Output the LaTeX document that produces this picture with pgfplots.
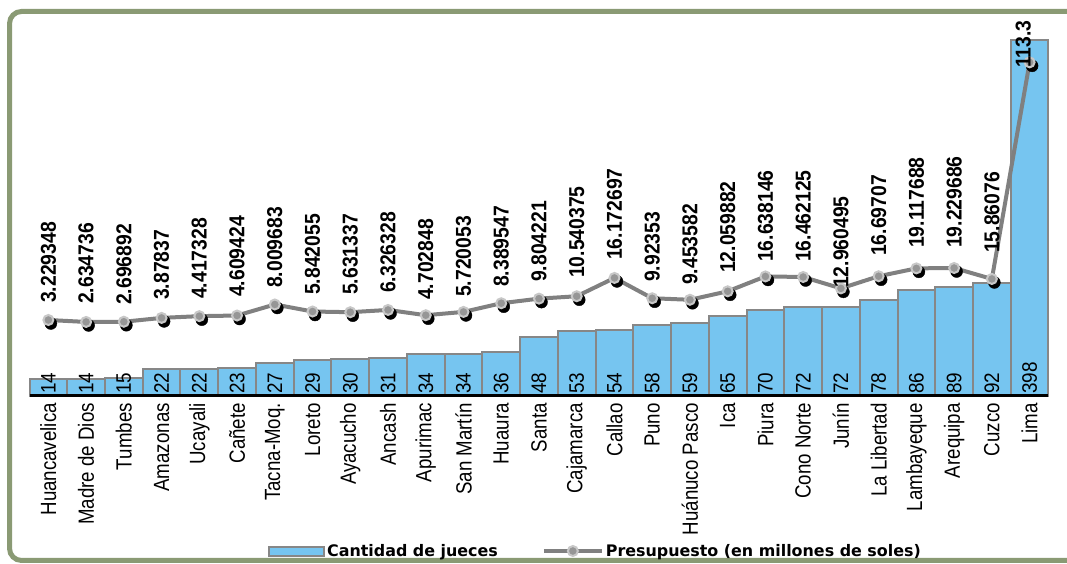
\documentclass[border=0pt]{standalone}
\usepackage{pgfplots}
\pgfplotsset{compat=1.18}
\usepackage{pgfplotstable}
\usepackage{fontspec}
\setmainfont{Liberation Sans}
\newfontfamily\tickfont[FakeStretch=0.85]{Liberation Sans}
\newfontfamily\labfont[FakeStretch=0.9]{Liberation Sans}
\newfontfamily\legfont{DejaVu Sans}
\definecolor{barblue}{RGB}{118,197,240}
\definecolor{bargray}{RGB}{135,135,135}
\definecolor{linegray}{RGB}{128,128,128}
\definecolor{markfill}{RGB}{150,150,150}
\definecolor{markring}{RGB}{200,200,200}
\definecolor{framegreen}{RGB}{138,154,116}

\pgfplotsset{
  linelegend/.style={legend image code/.code={\draw[mark repeat=2, mark phase=2, ##1] plot coordinates {(0pt,0pt) (29pt,0pt) (58pt,0pt)};}},
  barlegend/.style={legend image code/.code={\draw[fill=barblue, draw=bargray, line width=2pt] (0pt,-4.5pt) rectangle (55pt,4.5pt);}},
}

% x, plotted bar height, label (jueces), plotted line position
\pgfplotstableread[col sep=comma]{
x,jb,jl,pp
0,14,14,3.229348
1,14,14,2.634736
2,15,15,2.696892
3,22,22,3.87837
4,22,22,4.417328
5,23,23,4.609424
6,27,27,8.009683
7,29,29,5.842055
8,30,30,5.631337
9,31,31,6.326328
10,34,34,4.702848
11,34,34,5.720053
12,36,36,8.389547
13,48,48,9.804221
14,53,53,10.540375
15,54,54,16.172697
16,58,58,9.92353
17,59,59,9.453582
18,65,65,12.059882
19,70,70,16.638146
20,72,72,16.462125
21,72,72,12.960495
22,78,78,16.69707
23,86,86,19.117688
24,89,89,19.229686
25,92,92,15.86076
26,289.4,398,82.5
}\data

% position of each budget label (start of rotated text) and its text
\pgfplotstableread[col sep=comma]{
x,ly,lab
0,8.46,3.229348
1,8.15,2.634736
2,7.85,2.696892
3,9.38,3.87837
4,9.69,4.417328
5,10.31,4.609424
6,13.08,8.009683
7,10.92,5.842055
8,10.92,5.631337
9,11.54,6.326328
10,9.38,4.702848
11,10.31,5.720053
12,13.38,8.389547
13,14.92,9.804221
14,16.15,10.540375
15,21.69,16.172697
16,14.92,9.92353
17,14.00,9.453582
18,17.69,12.059882
19,21.08,16.638146
20,21.08,16.462125
21,13.08,12.960495
22,22.92,16.69707
23,25.38,19.117688
24,25.38,19.229686
25,23.85,15.86076
25.83,80.77,113.3
}\labs

\begin{document}
\begin{tikzpicture}[x=1pt,y=1pt]
\path[use as bounding box] (0,0) rectangle (1067,564);
\draw[framegreen, line width=5pt, rounded corners=12pt] (9.5,3.5) rectangle (1095,552.5);

\begin{axis}[
  at={(29.5pt,168pt)}, anchor=south west,
  scale only axis, width=1019pt, height=356pt,
  xmin=-0.5, xmax=26.5, ymin=0, ymax=289.4,
  clip=false,
  axis line style={draw=none},
  ytick=\empty,
  xtick={0,...,26},
  xticklabels={Huancavelica,Madre de Dios,Tumbes,Amazonas,Ucayali,Cañete,Tacna-Moq.,Loreto,Ayacucho,Ancash,Apurimac,San Martín,Huaura,Santa,Cajamarca,Callao,Puno,Huánuco Pasco,Ica,Piura,Cono Norte,Junín,La Libertad,Lambayeque,Arequipa,Cuzco,Lima},
  major tick length=0pt,
  tick style={draw=none},
  xticklabel style={rotate=90, anchor=east, inner sep=0pt, font=\tickfont\fontsize{22}{22}\selectfont},
  xticklabel shift=7pt,
]
\addplot[ybar, bar width=1, fill=barblue, draw=bargray, line width=2pt, forget plot]
  table[x=x, y=jb] \data;
\draw[black, line width=3pt] (axis cs:-0.5,0) -- (axis cs:26.5,0);
\addplot[draw=none, mark=none, forget plot, nodes near coords, point meta=explicit symbolic,
  every node near coord/.append style={rotate=90, anchor=west, inner xsep=2pt, inner ysep=0pt,
  text=black, font=\labfont\fontsize{21}{21}\selectfont}]
  table[x=x, y expr=0, meta=jl] \data;
\end{axis}

\begin{axis}[
  at={(29.5pt,168pt)}, anchor=south west,
  scale only axis, width=1019pt, height=356pt,
  xmin=-0.5, xmax=26.5, ymin=-20.15, ymax=89.38,
  clip=false, hide axis,
  legend columns=2,
  legend style={at={(0.234,-0.4354)}, anchor=west, draw=none, fill=none, inner sep=0pt,
    font=\legfont\bfseries\fontsize{15.9}{16}\selectfont,
    /tikz/every even column/.append style={column sep=42pt}},
]
\addlegendimage{barlegend}
\addlegendentry{Cantidad de jueces}
\addplot[only marks, mark=*, mark size=6pt, black, mark options={xshift=2.5pt, yshift=-3.5pt}, forget plot]
  table[x=x, y=pp] \data;
\addplot[linegray, line width=4pt, mark=*, mark size=5pt,
  mark options={fill=markfill, draw=markring, line width=2pt}, linelegend]
  table[x=x, y=pp] \data;
\addlegendentry{Presupuesto (en millones de soles)}
\addplot[draw=none, mark=none, forget plot, nodes near coords, point meta=explicit symbolic,
  every node near coord/.append style={rotate=90, anchor=west, inner xsep=0pt, inner ysep=0pt,
  text=black, font=\labfont\bfseries\fontsize{21.5}{21.5}\selectfont}]
  table[x=x, y=ly, meta=lab] \labs;
\end{axis}
\end{tikzpicture}
\end{document}
